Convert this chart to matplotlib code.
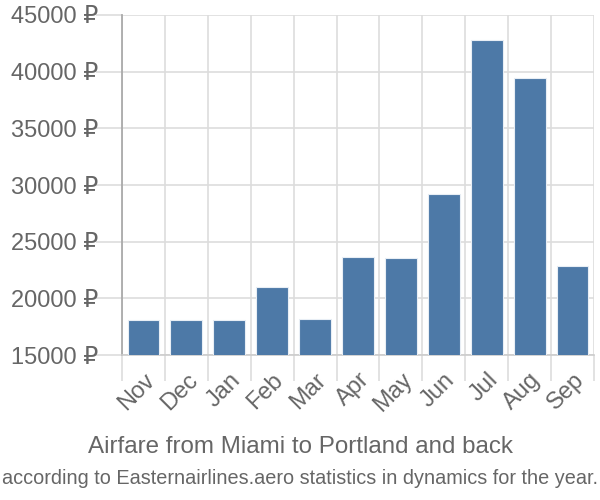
import numpy as np
import matplotlib
matplotlib.use("Agg")
import matplotlib.pyplot as plt

plt.rcParams["font.family"] = ["Liberation Sans", "DejaVu Sans"]

# data
months = ["Nov", "Dec", "Jan", "Feb", "Mar", "Apr", "May", "Jun", "Jul", "Aug", "Sep"]
prices = [18050, 18050, 18050, 20990, 18140, 23690, 23600, 29240, 42780, 39430, 22870]
y_ticks = [15000, 20000, 25000, 30000, 35000, 40000, 45000]

bar_color = "#4d79a7"
grid_color = "#dddddd"
text_color = "#666666"

fig = plt.figure(figsize=(6, 5), dpi=100)
ax = fig.add_axes([122 / 600, 1 - 355 / 500, 472 / 600, 340 / 500])

x = np.arange(len(months))
ax.bar(x, prices, width=0.74, color=bar_color, edgecolor="#e8eef5", linewidth=0.8, zorder=3)

ax.set_xlim(-0.5, len(months) - 0.5)
ax.set_ylim(15000, 45000)

# labels on category centres, grid on boundaries
ax.set_xticks(x)
ax.set_xticklabels(months, rotation=45, ha="right", va="top", rotation_mode="anchor")
ax.set_xticks(np.arange(-0.5, len(months)), minor=True)
ax.tick_params(axis="x", which="major", length=0, pad=10, labelsize=17, labelcolor=text_color)
ax.tick_params(axis="x", which="minor", length=19, width=1.2, color=grid_color)

ax.set_yticks(y_ticks)
ax.set_yticklabels([f"{v} ₽" for v in y_ticks])
ax.tick_params(axis="y", length=19, width=1.2, color=grid_color, pad=-2, labelsize=17, labelcolor=text_color)

ax.grid(True, axis="y", color=grid_color, linewidth=1.2, zorder=0)
ax.grid(True, axis="x", which="minor", color=grid_color, linewidth=1.2, zorder=0)

for side in ["top", "right"]:
    ax.spines[side].set_visible(False)
ax.spines["left"].set_color("#aaaaaa")
ax.spines["left"].set_linewidth(1.3)
ax.spines["bottom"].set_color("#cccccc")
ax.spines["bottom"].set_linewidth(1.2)

fig.text(0.5, 1 - 447 / 500, "Airfare from Miami to Portland and back",
         ha="center", va="center", fontsize=17.4, color=text_color)
fig.text(0.5, 1 - 478 / 500, "according to Easternairlines.aero statistics in dynamics for the year.",
         ha="center", va="center", fontsize=14.3, color=text_color)

fig.savefig("out.png", dpi=100)
